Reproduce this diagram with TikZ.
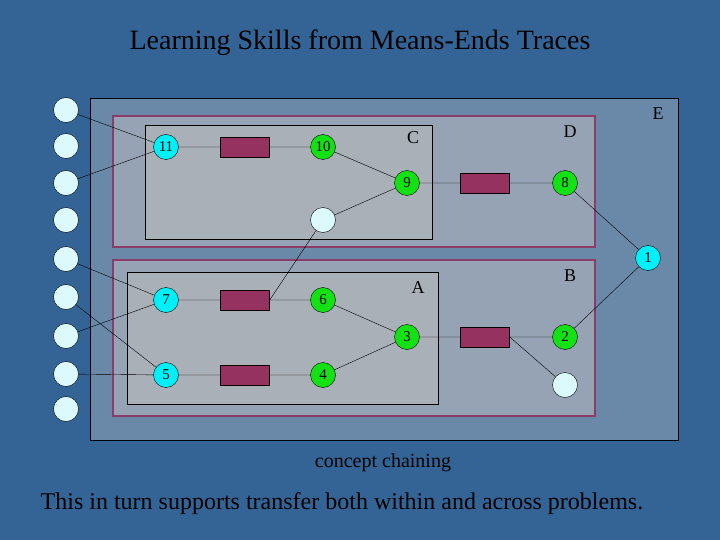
\documentclass[tikz,border=0pt]{standalone}
\usepackage{fontspec}
\setmainfont{Liberation Serif}
\definecolor{bgc}{RGB}{52,100,150}
\definecolor{ebox}{RGB}{106,136,168}
\definecolor{opc}{RGB}{150,50,95}
\definecolor{outc}{RGB}{140,60,105}
\definecolor{outf}{RGB}{150,163,180}
\definecolor{inf}{RGB}{170,176,184}
\definecolor{cy}{RGB}{0,240,250}
\definecolor{gr}{RGB}{20,225,20}
\definecolor{pale}{RGB}{220,250,252}
\begin{document}
\begin{tikzpicture}[x=1pt,y=-1pt,
  circ/.style={circle,draw=black,minimum size=25pt,inner sep=0pt,font=\fontsize{15}{15}\selectfont},
  cyn/.style={circ,fill=cy},
  grn/.style={circ,fill=gr},
  blank/.style={circ,fill=pale},
  op/.style={rectangle,draw=black,fill=opc,minimum width=49pt,minimum height=20pt,inner sep=0pt},
  outer/.style={draw=outc,line width=2.5pt,fill=outf},
  inner/.style={draw=black,fill=inf},
  lbl/.style={font=\fontsize{18}{18}\selectfont}]
\fill[bgc] (0,0) rectangle (720,540);
\useasboundingbox (0,0) rectangle (720,540);
\draw[fill=ebox] (90,98) rectangle (678,440);
\draw[outer] (113,116) rectangle (595,247);
\draw[inner] (145,125) rectangle (432,239);
\draw[outer] (113,260) rectangle (595,416);
\draw[inner] (127,272) rectangle (438,404);
\node[lbl] (lC) at (413,138) {C};
\node[lbl] (lD) at (570,132) {D};
\node[lbl] (lE) at (658,114) {E};
\node[lbl] (lB) at (570,276) {B};
\node[lbl] (lA) at (418,288) {A};
\foreach \i/\y in {1/110,2/146,3/183,4/220,5/259,6/297,7/336,8/374,9/409}
  \node[blank] (L\i) at (66,\y) {};
\node[cyn] (n11) at (166,147) {11};
\node[op] (r1) at (245,147) {};
\node[grn] (n10) at (323,147) {10};
\node[grn] (n9) at (407,183) {9};
\node[op] (r2) at (485,183) {};
\node[grn] (n8) at (565,183) {8};
\node[blank] (e1) at (323,220) {};
\node[cyn] (n1) at (648,258) {1};
\node[cyn] (n7) at (166,300) {7};
\node[op] (r3) at (245,300) {};
\node[grn] (n6) at (323,300) {6};
\node[grn] (n3) at (407,337) {3};
\node[op] (r4) at (485,337) {};
\node[grn] (n2) at (565,337) {2};
\node[blank] (e2) at (565,385) {};
\node[cyn] (n5) at (166,375) {5};
\node[op] (r5) at (245,375) {};
\node[grn] (n4) at (323,375) {4};
\draw (L1)--(n11) (L3)--(n11) (L5)--(n7) (L7)--(n7) (L6)--(n5) (L8)--(n5);
\draw (n11)--(r1)--(n10) (n10)--(n9) (e1)--(n9) (n9)--(r2)--(n8) (n8)--(n1) (n2)--(n1);
\draw (n7)--(r3)--(n6) (r3.east)--(e1) (n6)--(n3) (n4)--(n3) (n5)--(r5)--(n4);
\draw (n3)--(r4)--(n2) (r4.east)--(e2);
\node[font=\fontsize{28}{28}\selectfont] (title) at (360,43) {Learning Skills from Means-Ends Traces};
\node[font=\fontsize{20}{20}\selectfont] (cap) at (383,463) {concept chaining};
\node[font=\fontsize{24}{24}\selectfont] (foot) at (342,504) {This in turn supports transfer both within and across problems.};
\end{tikzpicture}
\end{document}
